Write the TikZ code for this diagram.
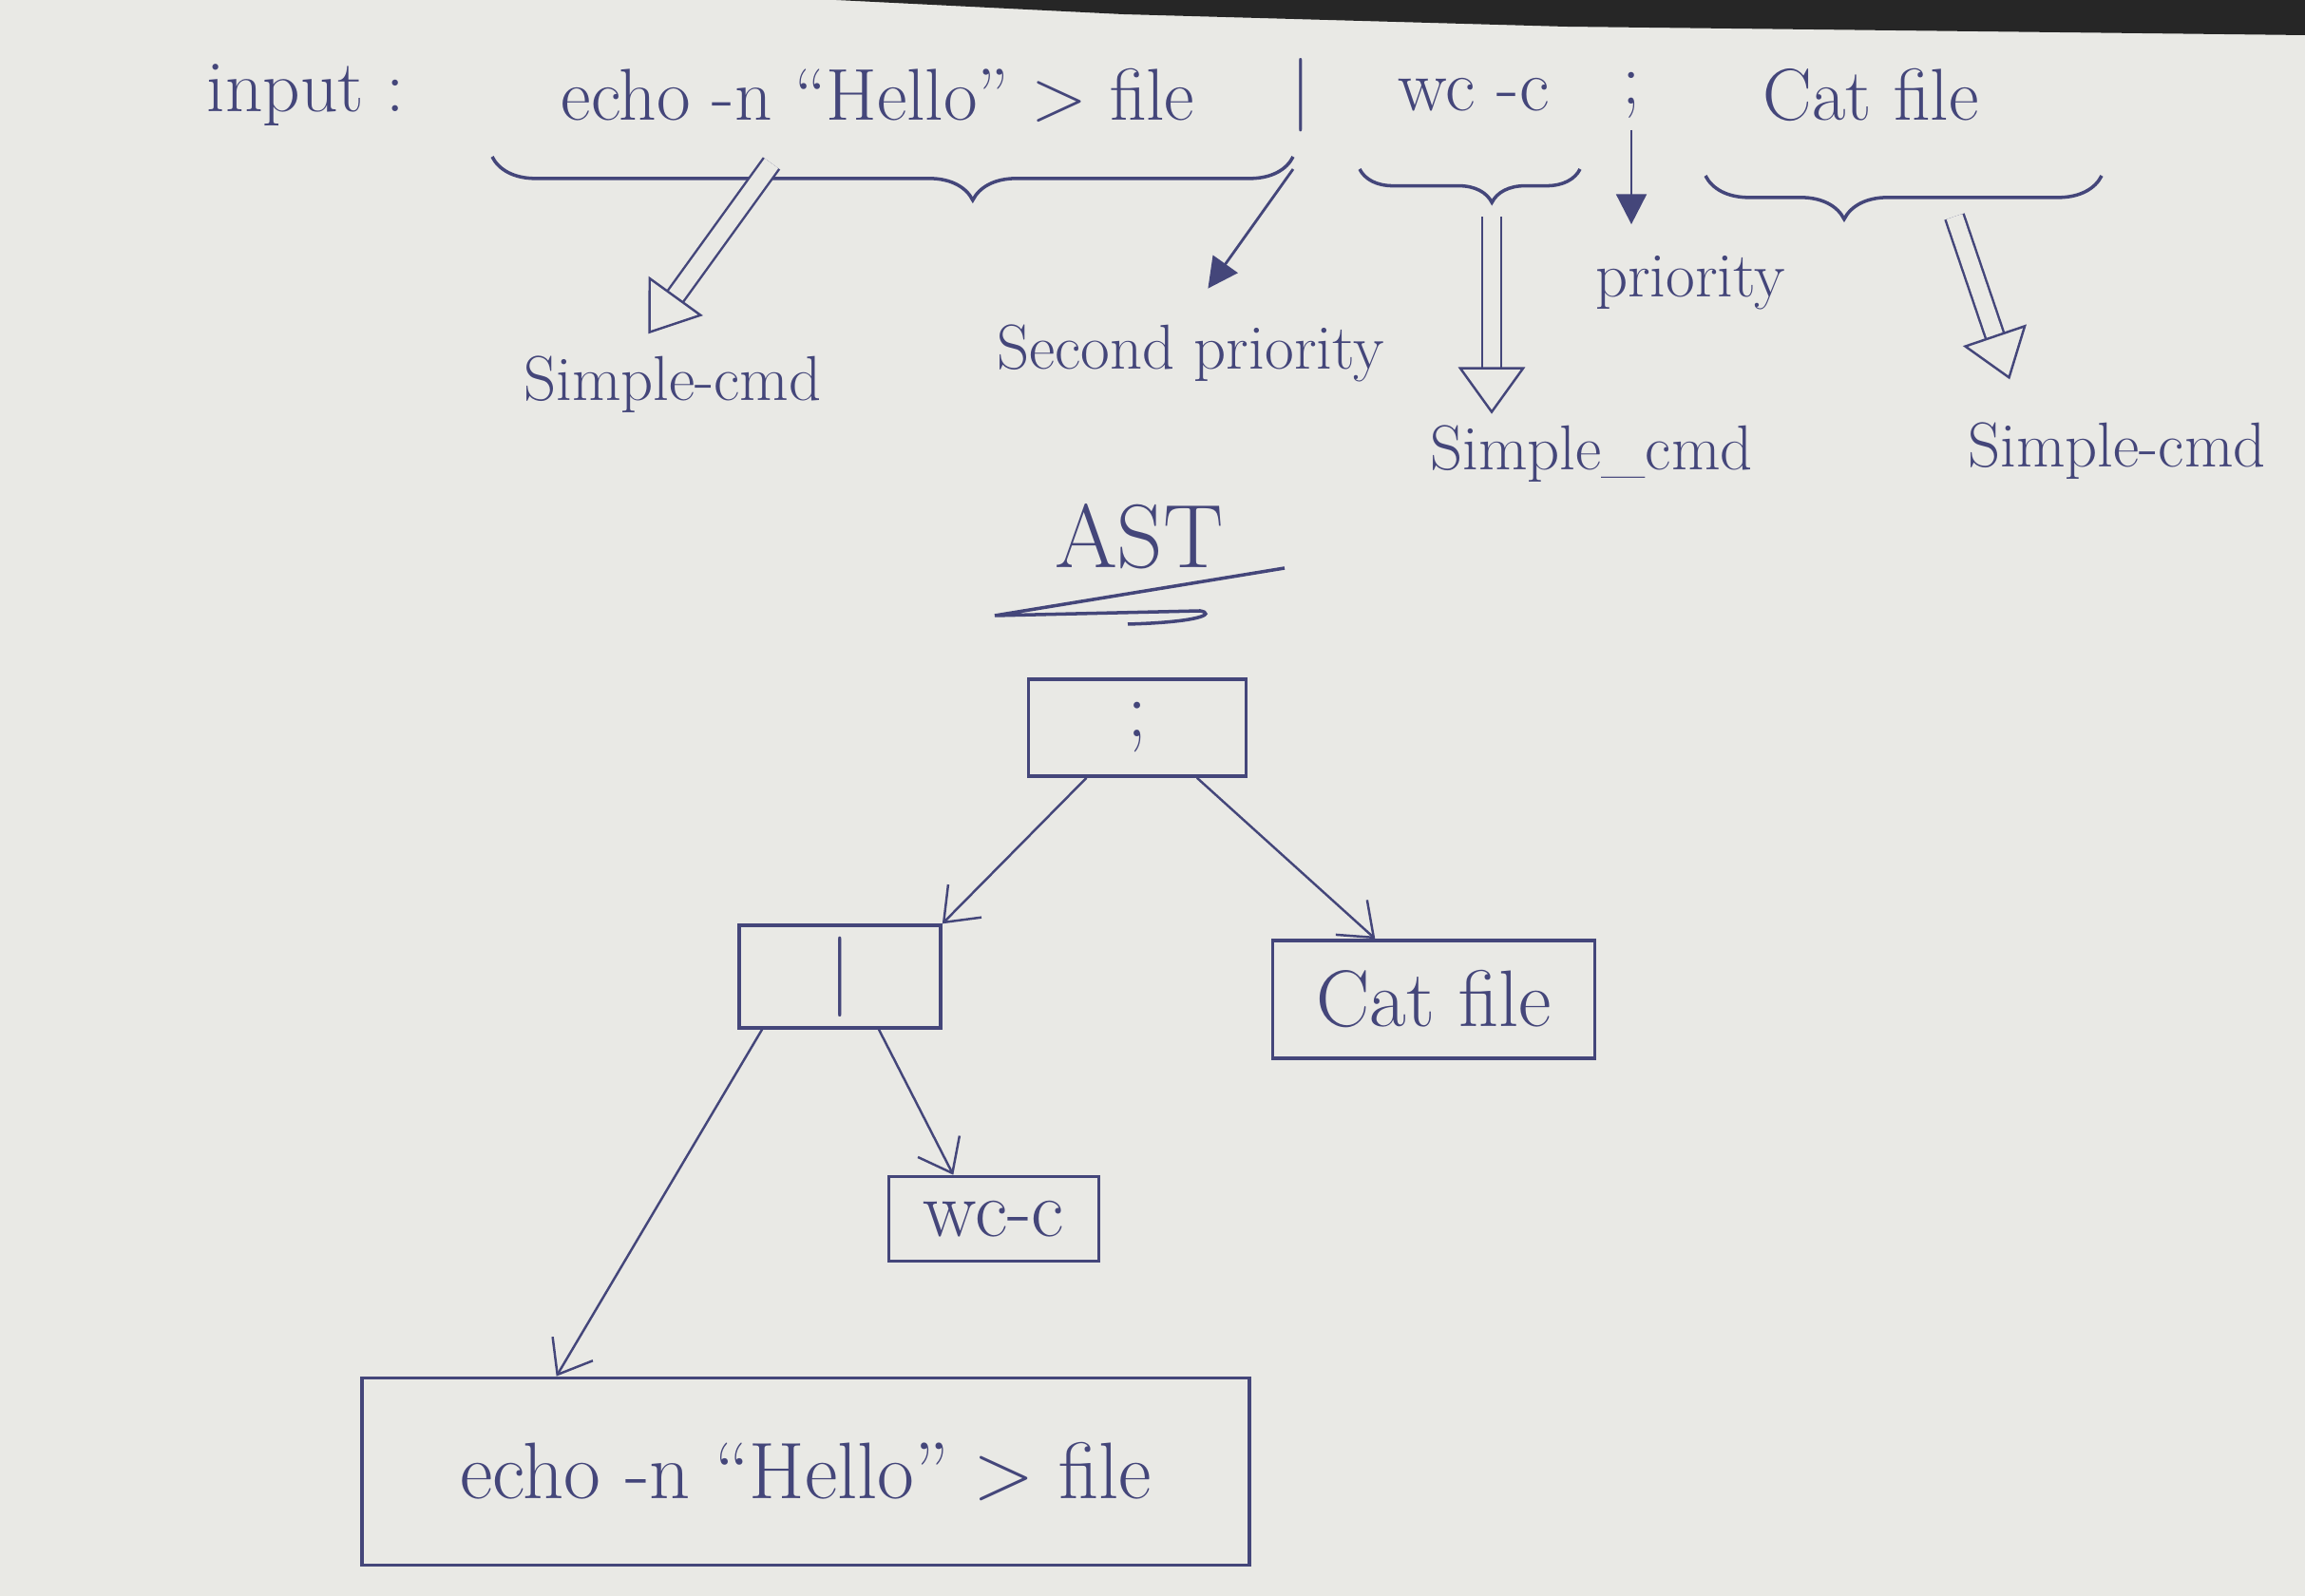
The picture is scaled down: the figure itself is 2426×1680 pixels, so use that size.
\documentclass[tikz,border=0pt]{standalone}
\usepackage{fontspec}
\usetikzlibrary{arrows.meta,decorations.pathreplacing,calc}
\definecolor{ink}{RGB}{68,70,122}
\definecolor{paper}{RGB}{233,233,229}
\definecolor{desk}{RGB}{38,38,38}

\begin{document}
\begin{tikzpicture}[x=0.01cm,y=-0.01cm,
        every node/.style={text=ink, font=\fontsize{22}{26}\selectfont},
        lbl/.style={font=\fontsize{19}{22}\selectfont},
        tbox/.style={draw=ink, line width=1pt, font=\fontsize{24}{28}\selectfont},
        pen/.style={draw=ink, line width=1pt},
        edge/.style={draw=ink, line width=0.7pt, -{Straight Barb[length=9pt,width=14pt]}},
        smallarrow/.style={draw=ink, line width=0.8pt, -{Triangle[length=9pt,width=9pt]}},
        dblarrow/.style={draw=ink, line width=0.7pt, double=paper, double distance=5pt, -{Triangle[open,length=14pt,width=20pt]}},
        curly/.style={pen, decorate, decoration={brace, mirror, amplitude=#1}}]
        % paper and the edge of the desk
        \fill[paper] (0,0) rectangle (2426,1680);
        \fill[desk] (880,0) -- (2426,0) -- (2426,37) -- (1648,28) -- (1182,15) -- cycle;
        \useasboundingbox (0,0) rectangle (2426,1680);

        % input line
        \node (inp) at (322,100) {input :};
        \node (cmdA) at (924,100) {echo -n ``Hello'' > file};
        \node (pipeA) at (1369,100) {|};
        \node (cmdB) at (1551,100) {wc -c};
        \node (semiA) at (1717,100) {;};
        \node (cmdC) at (1969,100) {Cat file};

        \draw[curly=13pt, decoration={aspect=0.6}] (518,165) -- (1361,165);
        \draw[curly=10pt, decoration={aspect=0.6}] (1431,178) -- (1663,178);
        \draw[curly=13pt, decoration={aspect=0.35}] (1795,185) -- (2212,185);

        \coordinate (bA) at (812,172);
        \coordinate (bP) at (1361,178);
        \coordinate (bB) at (1570,228);
        \coordinate (bC) at (2057,228);

        \node[lbl] (simA) at (708,405) {Simple-cmd};
        \node[lbl] (second) at (1253,372) {Second priority};
        \node[lbl] (prio) at (1779,298) {priority};
        \node[lbl] (simB) at (1675,478) {Simple\_cmd};
        \node[lbl] (simC) at (2228,475) {Simple-cmd};

        \draw[dblarrow, shorten >=4pt] (bA) -- ($(simA.north west)!0.4!(simA.north east)$);
        \draw[smallarrow, shorten >=9pt] (bP) -- (second.north);
        \draw[dblarrow] (bB) -- (bB |- simB.north);
        \draw[smallarrow, shorten >=6pt] (semiA.south) -- (semiA.south |- prio.north);
        \draw[dblarrow, shorten >=10pt] (bC) -- ($(simC.north west)!0.2!(simC.north east)$);

        % AST
        \node[font=\fontsize{27}{30}\selectfont] (ast) at (1199,565) {AST};
        \draw[pen] (1352,598) -- (1047,648) -- (1263,643) .. controls (1280,646) and (1262,655) .. (1187,657);

        \node[tbox, minimum width=2.29cm, minimum height=1.02cm] (semi) at (1197,766) {;};
        \node[tbox, minimum width=2.12cm, minimum height=1.00cm] (pipe) at (884,1028) {|};
        \node[tbox, minimum width=3.39cm, minimum height=1.24cm] (cat) at (1509,1052) {Cat file};
        \node[tbox, minimum width=2.21cm, minimum height=0.89cm] (wc) at (1046,1283) {wc-c};
        \node[tbox, minimum width=9.33cm, minimum height=1.97cm] (echo) at (848,1549) {echo -n ``Hello'' > file};

        \draw[edge] ($(semi.south west)!0.27!(semi.south east)$) -- (pipe.north east);
        \draw[edge] ($(semi.south west)!0.77!(semi.south east)$) -- ($(cat.north west)!0.32!(cat.north east)$);
        \draw[edge] ($(pipe.south west)!0.69!(pipe.south east)$) -- ($(wc.north west)!0.31!(wc.north east)$);
        \draw[edge] ($(pipe.south west)!0.12!(pipe.south east)$) -- ($(echo.north west)!0.22!(echo.north east)$);
    \end{tikzpicture}
\end{document}
